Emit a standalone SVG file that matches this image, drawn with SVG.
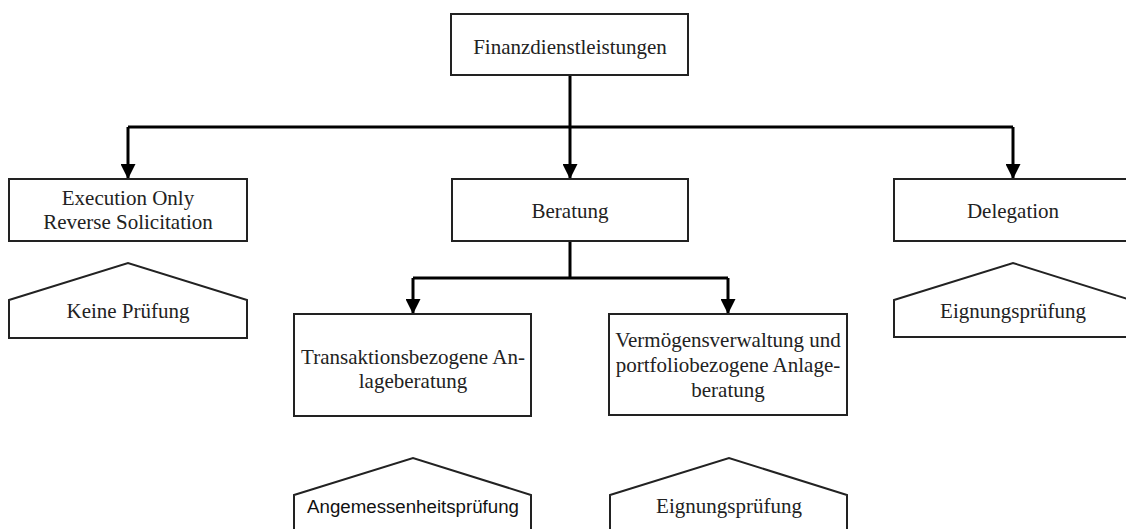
<svg xmlns="http://www.w3.org/2000/svg" width="1126" height="529" viewBox="0 0 1126 529">
<style>
.box{fill:#fff;stroke:#222;stroke-width:2}
.pent{fill:#fff;stroke:#222;stroke-width:2}
.t{font-family:"Liberation Serif","Times New Roman",serif;font-size:21px;fill:#222;text-anchor:middle}
.s{font-family:"Liberation Sans",Arial,sans-serif;font-size:18.7px;fill:#111;text-anchor:middle}
.c{fill:none;stroke:#000;stroke-width:3}
</style>
<defs>
<marker id="ah" markerWidth="5" markerHeight="5" refX="5" refY="2.5" orient="auto" markerUnits="strokeWidth">
<path d="M0,0 L5,2.5 L0,5 Z" fill="#000"/>
</marker>
</defs>
<rect width="1126" height="529" fill="#fff"/>
<g id="connectors">
<path class="c" d="M570,75 V127"/>
<path class="c" d="M128,127 H1013"/>
<path class="c" d="M128,127 V179" marker-end="url(#ah)"/>
<path class="c" d="M570,127 V179" marker-end="url(#ah)"/>
<path class="c" d="M1013,127 V179" marker-end="url(#ah)"/>
<path class="c" d="M570,241 V278"/>
<path class="c" d="M413,278 H728"/>
<path class="c" d="M413,278 V314" marker-end="url(#ah)"/>
<path class="c" d="M728,278 V314" marker-end="url(#ah)"/>
</g>
<g id="n-finanz">
<rect class="box" x="451" y="14" width="237" height="61"/>
<text class="t" x="570" y="54">Finanzdienstleistungen</text>
</g>
<g id="n-execution">
<rect class="box" x="9" y="179" width="238" height="62"/>
<text class="t" x="128" y="205">Execution Only</text>
<text class="t" x="128" y="229">Reverse Solicitation</text>
</g>
<g id="n-beratung">
<rect class="box" x="452" y="179" width="236" height="62"/>
<text class="t" x="570" y="218">Beratung</text>
</g>
<g id="n-delegation">
<rect class="box" x="894" y="179" width="237" height="62"/>
<text class="t" x="1013" y="218">Delegation</text>
</g>
<g id="n-keine">
<path class="pent" d="M9,300 L128,263 L247,300 V338 H9 Z"/>
<text class="t" x="128" y="318">Keine Prüfung</text>
</g>
<g id="n-eignung1">
<path class="pent" d="M894,300 L1013,263 L1131,300 V337 H894 Z"/>
<text class="t" x="1013" y="318">Eignungsprüfung</text>
</g>
<g id="n-transaktion">
<rect class="box" x="294" y="314" width="237" height="102"/>
<text class="t" x="413" y="364">Transaktionsbezogene An-</text>
<text class="t" x="413" y="388">lageberatung</text>
</g>
<g id="n-vermoegen">
<rect class="box" x="609" y="314" width="238" height="101"/>
<text class="t" x="728" y="347">Vermögensverwaltung und</text>
<text class="t" x="728" y="372">portfoliobezogene Anlage-</text>
<text class="t" x="728" y="397">beratung</text>
</g>
<g id="n-angemessen">
<path class="pent" d="M294,495 L413,458 L531,495 V540 H294 Z"/>
<text class="s" x="413" y="513">Angemessenheitsprüfung</text>
</g>
<g id="n-eignung2">
<path class="pent" d="M610,495 L729,458 L847,495 V540 H610 Z"/>
<text class="t" x="729" y="513">Eignungsprüfung</text>
</g>
</svg>
